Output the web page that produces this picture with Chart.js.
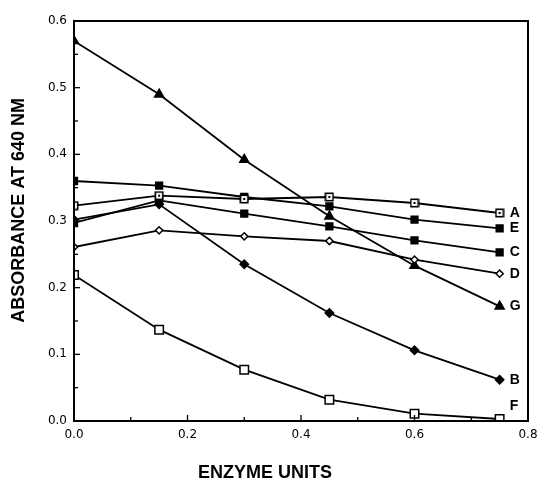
<!DOCTYPE html>
<html>
<head>
<meta charset="utf-8">
<script src="https://cdn.jsdelivr.net/npm/chart.js@4.4.1/dist/chart.umd.min.js"></script>
<style>
  html, body { margin: 0; padding: 0; background: #fff; }
  #wrap { width: 539px; height: 487px; }
</style>
</head>
<body>
<div id="wrap"><canvas id="c" width="539" height="487"></canvas></div>
<script>
// ---- data ----
const enzymeUnits = [0, 0.15, 0.3, 0.45, 0.6, 0.75];
const seriesNames = ['A', 'E', 'C', 'D', 'G', 'B', 'F'];
const seriesA = [0.323, 0.338, 0.333, 0.336, 0.327, 0.312];
const seriesE = [0.360, 0.353, 0.336, 0.322, 0.302, 0.289];
const seriesC = [0.297, 0.331, 0.311, 0.292, 0.271, 0.253];
const seriesD = [0.261, 0.286, 0.277, 0.270, 0.242, 0.221];
const seriesG = [0.570, 0.490, 0.392, 0.307, 0.233, 0.172];
const seriesB = [0.302, 0.325, 0.235, 0.162, 0.106, 0.062];
const seriesF = [0.219, 0.137, 0.077, 0.032, 0.011, 0.003];
const yTickLabels = ['0.0', '0.1', '0.2', '0.3', '0.4', '0.5', '0.6'];
const xTickLabels = ['0.0', '0.2', '0.4', '0.6', '0.8'];
const xTitle = 'ENZYME UNITS';
const yTitle = 'ABSORBANCE AT 640 NM';

// ---- marker: open square with a center dot (series A) ----
function dotSquare() {
  const cv = document.createElement('canvas');
  cv.width = 10; cv.height = 10;
  const g = cv.getContext('2d');
  g.fillStyle = '#fff';
  g.fillRect(1, 1, 8, 8);
  g.strokeStyle = '#000';
  g.lineWidth = 1.6;
  g.strokeRect(1.3, 1.3, 7.4, 7.4);
  g.fillStyle = '#000';
  g.fillRect(4, 4, 2, 2);
  return cv;
}

const styles = {
  A: { pointStyle: dotSquare(), radius: 5, bg: '#fff' },
  E: { pointStyle: 'rect', radius: 4.8, bg: '#000' },
  C: { pointStyle: 'rect', radius: 4.8, bg: '#000' },
  D: { pointStyle: 'rectRot', radius: 3.6, bg: '#fff' },
  G: { pointStyle: 'triangle', radius: 5.2, bg: '#000' },
  B: { pointStyle: 'rectRot', radius: 4.2, bg: '#000' },
  F: { pointStyle: 'rect', radius: 6, bg: '#fff' }
};
const seriesValues = { A: seriesA, E: seriesE, C: seriesC, D: seriesD, G: seriesG, B: seriesB, F: seriesF };
const labelShift = { F: { dx: 10, dy: -13 } };

const datasets = seriesNames.map(n => ({
  label: n,
  data: enzymeUnits.map((x, i) => ({ x: x, y: seriesValues[n][i] })),
  borderColor: '#000',
  borderWidth: 1.8,
  pointStyle: styles[n].pointStyle,
  pointRadius: styles[n].radius,
  pointBackgroundColor: styles[n].bg,
  pointBorderColor: '#000',
  pointBorderWidth: 1.5,
  tension: 0,
  fill: false
}));

const framePlugin = {
  id: 'frame',
  afterDraw(chart) {
    const { ctx, chartArea: a, scales } = chart;
    ctx.save();
    ctx.strokeStyle = '#000';
    ctx.lineWidth = 2;
    ctx.strokeRect(a.left, a.top, a.right - a.left, a.bottom - a.top);
    ctx.lineWidth = 1.3;
    scales.y.ticks.forEach(t => {
      const py = scales.y.getPixelForValue(t.value);
      const major = Math.abs(Math.round(t.value * 100) % 10) === 0;
      const len = major ? 6 : 4;
      ctx.beginPath();
      ctx.moveTo(a.left, py); ctx.lineTo(a.left + len, py);
      ctx.stroke();
    });
    scales.x.ticks.forEach(t => {
      const px = scales.x.getPixelForValue(t.value);
      const major = Math.abs(Math.round(t.value * 10) % 2) === 0;
      const len = major ? 6 : 4;
      ctx.beginPath();
      ctx.moveTo(px, a.bottom); ctx.lineTo(px, a.bottom - len);
      ctx.stroke();
    });
    // axis titles
    ctx.fillStyle = '#000';
    ctx.font = 'bold 18px "Liberation Sans", Arial, sans-serif';
    ctx.textAlign = 'center';
    ctx.textBaseline = 'middle';
    ctx.fillText(xTitle, 265, 473);
    ctx.translate(19, 98);
    ctx.rotate(-Math.PI / 2);
    ctx.textAlign = 'right';
    ctx.fillText(yTitle, 0, 0);
    ctx.restore();
  },
  afterDatasetsDraw(chart) {
    const { ctx } = chart;
    ctx.save();
    ctx.fillStyle = '#000';
    ctx.font = 'bold 14px "Liberation Sans", Arial, sans-serif';
    ctx.textAlign = 'left';
    ctx.textBaseline = 'middle';
    chart.data.datasets.forEach((ds, i) => {
      const meta = chart.getDatasetMeta(i);
      const last = meta.data[meta.data.length - 1];
      const s = labelShift[ds.label] || { dx: 10, dy: 0 };
      ctx.fillText(ds.label, last.x + s.dx, last.y + s.dy);
    });
    ctx.restore();
  }
};

new Chart(document.getElementById('c'), {
  type: 'line',
  data: { datasets },
  options: {
    responsive: false,
    animation: false,
    devicePixelRatio: 1,
    layout: { padding: { top: 21, right: 11, bottom: 0, left: 0 } },
    plugins: { legend: { display: false }, tooltip: { enabled: false }, title: { display: false } },
    elements: { line: { borderJoinStyle: 'miter' } },
    scales: {
      x: {
        type: 'linear', min: 0, max: 0.8,
        grid: { display: false, drawTicks: false },
        border: { display: false },
        ticks: {
          stepSize: 0.1, autoSkip: false, maxRotation: 0, padding: 7,
          color: '#000', font: { family: '"DejaVu Sans", sans-serif', size: 12 },
          callback: v => {
            const k = Math.round(v * 10);
            return k % 2 === 0 ? xTickLabels[k / 2] : '';
          }
        },
        afterFit: s => { s.height = 66; s.paddingLeft = 0; s.paddingRight = 0; }
      },
      y: {
        type: 'linear', min: 0, max: 0.6,
        grid: { display: false, drawTicks: false },
        border: { display: false },
        ticks: {
          stepSize: 0.05, autoSkip: false, padding: 7,
          color: '#000', font: { family: '"DejaVu Sans", sans-serif', size: 12 },
          callback: v => {
            const k = Math.round(v * 100);
            return k % 10 === 0 ? yTickLabels[k / 10] : '';
          }
        },
        afterFit: s => { s.width = 74; s.paddingTop = 0; s.paddingBottom = 0; }
      }
    }
  },
  plugins: [framePlugin]
});
</script>
</body>
</html>
